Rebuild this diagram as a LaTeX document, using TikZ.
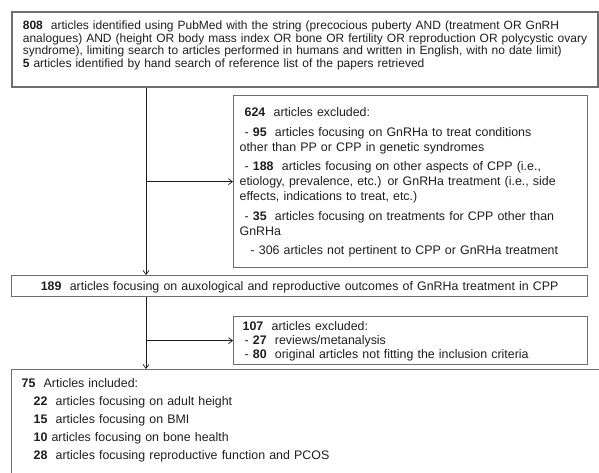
\documentclass[tikz,border=0pt]{standalone}
\usepackage{fontspec}
\setmainfont{Liberation Sans}
\usetikzlibrary{arrows.meta, positioning, calc}

\definecolor{framegray}{HTML}{6E6E6E}
\definecolor{inkgray}{HTML}{1E1E1E}

\begin{document}
\begin{tikzpicture}[
    x=1pt, y=-1pt,
    arr/.style={-{Straight Barb[length=4pt,width=6pt]}, line width=0.7pt, draw=inkgray},
    flowbox/.style={rectangle, draw=framegray, line width=1.3pt, anchor=north west,
                    inner xsep=6pt, inner ysep=0pt, align=left, text=inkgray,
                    font=\fontsize{12.4}{14}\selectfont}
]
    \useasboundingbox (0,0) rectangle (599,473);
    \clip (0,0) rectangle (599,473);

    \node[flowbox, line width=1.8pt, inner xsep=11pt, text width=564pt,
          text height=18pt, text depth=57pt,
          font=\fontsize{12}{12.5}\selectfont] (search) at (11,11)
        {\textbf{808}\ \ articles identified using PubMed with the string (precocious puberty AND (treatment OR GnRH\\
         \mbox{analogues) AND (height OR body mass index OR bone OR fertility OR reproduction OR polycystic ovary}\\
         \mbox{syndrome), limiting search to articles performed in humans and written in English, with no date limit)}\\
         \textbf{5} articles identified by hand search of reference list of the papers retrieved};

    \node[flowbox, text width=342pt, text height=21pt, text depth=151pt,
          font=\fontsize{12.4}{15}\selectfont] (excl1) at (233,95)
        {\hspace*{5pt}\textbf{624}\ \ articles excluded:\\[4.5pt]
         \hspace*{5pt}- \textbf{95}\ \ articles focusing on GnRHa to treat conditions\\
         other than PP or CPP in genetic syndromes\\[4.5pt]
         \hspace*{5pt}- \textbf{188}\ \ articles focusing on other aspects of CPP (i.e.,\\
         etiology, prevalence, etc.) or GnRHa treatment (i.e., side\\
         effects, indications to treat, etc.)\\[4.5pt]
         \hspace*{5pt}- \textbf{35}\ \ articles focusing on treatments for CPP other than\\
         GnRHa\\[4.5pt]
         \hspace*{11pt}- 306 articles not pertinent to CPP or GnRHa treatment};

    \node[flowbox, align=center, inner xsep=7pt, text width=562pt,
          text height=15pt, text depth=6pt] (screened) at (11,275)
        {\textbf{189}\ \ articles focusing on auxological and reproductive outcomes of GnRHa treatment in CPP};

    \node[flowbox, text width=342pt, text height=14pt, text depth=34pt] (excl2) at (233,316)
        {\hspace*{3pt}\textbf{107}\ \ articles excluded:\\
         \hspace*{5pt}- \textbf{27}\ \ reviews/metanalysis\\
         \hspace*{5pt}- \textbf{80}\ \ original articles not fitting the inclusion criteria};

    \node[flowbox, inner xsep=10pt, text width=590pt, text height=18pt, text depth=110pt,
          font=\fontsize{12.4}{18}\selectfont] (incl) at (11,369)
        {\textbf{75}\ \ Articles included:\\
         \hspace*{12pt}\textbf{22}\ \ articles focusing on adult height\\
         \hspace*{12pt}\textbf{15}\ \ articles focusing on BMI\\
         \hspace*{12pt}\textbf{10} articles focusing on bone health\\
         \hspace*{12pt}\textbf{28}\ \ articles focusing reproductive function and PCOS};

    % trunk of the flow and the side branches
    \coordinate (trunk) at (146,0);
    \draw[arr] (search.south -| trunk) -- (screened.north -| trunk);
    \draw[arr] (excl1.west -| trunk) -- (excl1.west);
    \draw[arr] (screened.south -| trunk) -- (incl.north -| trunk);
    \draw[arr] (excl2.west -| trunk) -- (excl2.west);
\end{tikzpicture}
\end{document}
